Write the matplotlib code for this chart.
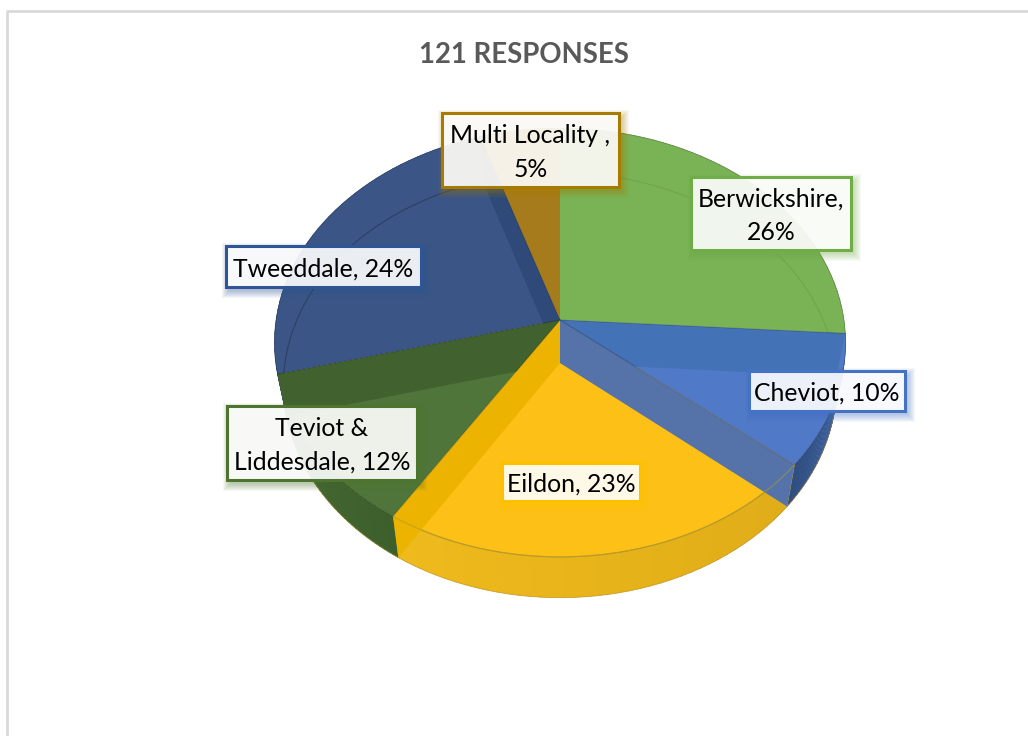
import numpy as np
from matplotlib import pyplot as plt
from matplotlib.patches import Rectangle

names = ['Berwickshire', 'Cheviot', 'Eildon', 'Teviot & Liddesdale', 'Tweeddale', 'Multi Locality ']
shares = [26, 10, 23, 12, 24, 5]
face_colors = ['#7ab256', '#5079c8', '#fdc016', '#50753a', '#3a5586', '#a67b1c']
edge_colors = ['#70ad47', '#4472c4', '#ffc000', '#4e7530', '#2f5597', '#a67c00']
side_colors = [('#7ab256', '#7ab256'), ('#456fb3', '#2f4d80'), ('#e0ac18', '#eeba1c'),
               ('#3c5f2c', '#476b33'), ('#3a5586', '#3a5586'), ('#a67b1c', '#a67b1c')]

# label boxes: left, top, right, bottom in pixels, and text for each line
boxes = [(691, 177, 851, 250), (749, 371, 905, 411), (502, 463, 640, 501),
         (227, 406, 417, 480), (226, 246, 421, 287), (442, 113, 619, 187)]
label_text = ['Berwickshire,\n26%', 'Cheviot, 10%', 'Eildon, 23%',
              'Teviot &\nLiddesdale, 12%', 'Tweeddale, 24%', 'Multi Locality ,\n5%']

CX = 560
P = 0.105
TOP = (320, 284, 212)      # apex y, x radius, y radius of upper disc
BOT = (363, 275, 210)      # same for lower disc


def rim(deg, disc):
    t = np.radians(deg)
    d = 1 + P * np.cos(t)
    return CX + disc[1] * np.sin(t) / d, disc[0] - disc[2] * np.cos(t) / d


fig = plt.figure(figsize=(10.28, 7.36), dpi=100)
ax = fig.add_axes([0, 0, 1, 1])
ax.set_xlim(0, 1028)
ax.set_ylim(736, 0)
ax.axis('off')
plt.rcParams['font.family'] = ['Lato', 'DejaVu Sans']

# chart frame
ax.plot([7, 7, 1028], [736, 11, 11], color='#d9d9d9', lw=2, zorder=1)

edges = np.concatenate([[0], np.cumsum(shares)]) * 3.6

# outer side of the pie, shaded along the arc
for i in range(len(shares)):
    steps = np.linspace(edges[i], edges[i + 1], 41)
    c0 = np.array(plt.matplotlib.colors.to_rgb(side_colors[i][0]))
    c1 = np.array(plt.matplotlib.colors.to_rgb(side_colors[i][1]))
    for j in range(40):
        a, b = steps[j], steps[j + 1] + 0.2
        xa, ya = rim(np.array([a, b]), TOP)
        xb, yb = rim(np.array([b, a]), BOT)
        col = c0 + (c1 - c0) * j / 39
        ax.fill(np.r_[xa, xb], np.r_[ya, yb], color=col, lw=0.3, zorder=2)

# front outline of the lower rim
xs, ys = rim(np.linspace(edges[1], edges[4], 200), BOT)
ax.plot(xs, ys, color='#b08a20', lw=0.6, alpha=0.6, zorder=2)

# top wedges
for i in range(len(shares)):
    tt = np.linspace(edges[i], edges[i + 1], 80)
    x, y = rim(tt, TOP)
    ax.fill(np.r_[CX, x], np.r_[TOP[0], y], color=face_colors[i], lw=0, zorder=3)
    ax.plot(x, y, color='black', alpha=0.2, lw=0.7, zorder=3)


def wall(deg, color, z):
    x1, y1 = rim(deg, TOP)
    x2, y2 = rim(deg, BOT)
    ax.fill([CX, x1, x2, CX], [TOP[0], y1, y2, BOT[0]], color=color, lw=0, zorder=z)
    ax.plot([CX, x1], [TOP[0], y1], color='black', alpha=0.22, lw=0.7, zorder=z)


# faint lower rim seen through the back slices
xs, ys = rim(np.linspace(edges[0] + 2, edges[1], 80), BOT)
ax.plot(xs, ys, color='black', alpha=0.08, lw=0.8, zorder=3)
xs, ys = rim(np.linspace(edges[4], edges[5], 100), BOT)
ax.plot(xs, ys, color='black', alpha=0.25, lw=0.8, zorder=3)

# inner walls at slice boundaries
wall(edges[5], '#2f4a78', 4)
wall(edges[4], '#41622f', 5)
wall(edges[1], '#4472b6', 4)
wall(edges[2], '#5573a8', 6)
wall(edges[3], '#ecb400', 6)

# rim of the yellow slice runs across both neighbouring walls
xs, ys = rim(np.linspace(edges[2], edges[3], 120), TOP)
ax.plot(xs, ys, color='#a89a30', alpha=0.55, lw=0.9, zorder=7)

# data labels
for box, txt, col in zip(boxes, label_text, edge_colors):
    l, t, r, b = box
    # soft shadow, tinted with the border colour
    for grow in np.arange(7, -1, -1):
        ax.add_patch(Rectangle((l + 3 - grow, t + 4 - grow), r - l + 2 * grow, b - t + 2 * grow,
                               facecolor=col, edgecolor='none', alpha=0.055, zorder=8))
    ax.add_patch(Rectangle((l, t), r - l, b - t, facecolor='white', edgecolor='none',
                           alpha=0.9, zorder=9))
    ax.add_patch(Rectangle((l, t), r - l, b - t, facecolor='none', edgecolor=col, lw=2.2, zorder=10))
    ax.text((l + r) / 2, (t + b) / 2 + 2.5, txt, ha='center', va='center', fontsize=17.8,
            color='black', linespacing=1.55, zorder=11)

ax.text(524, 55, '121 RESPONSES', ha='center', va='center', fontsize=19.8,
        fontweight='bold', color='#595959', zorder=11)

fig.savefig('out.png', dpi=100)
